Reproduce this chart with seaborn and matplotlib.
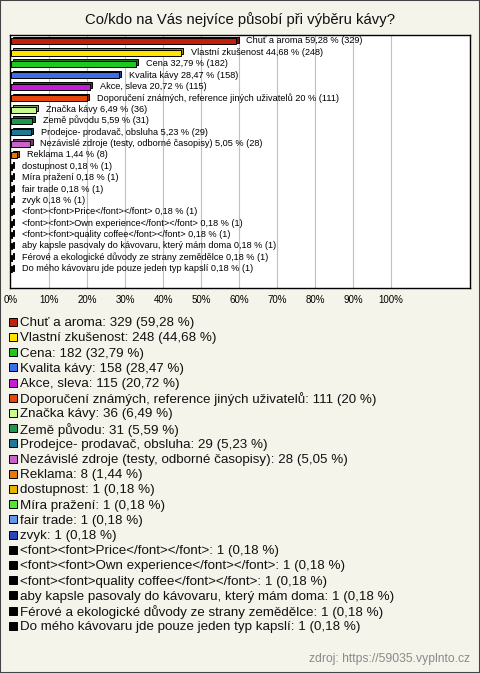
import matplotlib
matplotlib.use("Agg")
import matplotlib.pyplot as plt
import matplotlib.transforms as mtransforms
from matplotlib.patches import Rectangle
from matplotlib.colors import to_rgb
import seaborn as sns
import pandas as pd

# ---- data ----
categories = [
    "Chuť a aroma", "Vlastní zkušenost", "Cena", "Kvalita kávy", "Akce, sleva",
    "Doporučení známých, reference jiných uživatelů", "Značka kávy", "Země původu",
    "Prodejce- prodavač, obsluha", "Nezávislé zdroje (testy, odborné časopisy)",
    "Reklama", "dostupnost", "Míra pražení", "fair trade", "zvyk",
    "<font><font>Price</font></font>", "<font><font>Own experience</font></font>",
    "<font><font>quality coffee</font></font>",
    "aby kapsle pasovaly do kávovaru, který mám doma",
    "Férové a ekologické důvody ze strany zemědělce",
    "Do mého kávovaru jde pouze jeden typ kapslí",
]
counts = [329, 248, 182, 158, 115, 111, 36, 31, 29, 28, 8, 1, 1, 1, 1, 1, 1, 1, 1, 1, 1]
percents = [59.28, 44.68, 32.79, 28.47, 20.72, 20.00, 6.49, 5.59, 5.23, 5.05, 1.44,
            0.18, 0.18, 0.18, 0.18, 0.18, 0.18, 0.18, 0.18, 0.18, 0.18]
colors = ["#c41e0c", "#ffe400", "#1ec81e", "#3c6ee6", "#c41ed2", "#e4460c",
          "#c8fa8c", "#1e9650", "#1e7896", "#c864c8", "#e6780a", "#e6b400",
          "#50e632", "#6496e6", "#2846b4", "#000000", "#000000", "#000000",
          "#000000", "#000000", "#000000"]
x_ticks = [0, 10, 20, 30, 40, 50, 60, 70, 80, 90, 100]
title = "Co/kdo na Vás nejvíce působí při výběru kávy?"
source = "zdroj: https://59035.vyplnto.cz"


def fmt_pct(v):
    s = f"{v:.2f}".rstrip("0").rstrip(".")
    return s.replace(".", ",")


df = pd.DataFrame({"cat": categories, "pct": percents, "n": counts})

sns.set_theme(style="white")
plt.rcParams["font.family"] = ["Liberation Sans", "DejaVu Sans"]

W, H = 480, 673
BG = "#f5f4eb"
fig = plt.figure(figsize=(W / 100, H / 100), dpi=100, facecolor=BG)

ax = fig.add_axes([10 / W, 1 - 288 / H, 460 / W, 253 / H])
ax.set_facecolor("white")

# back (depth) face, darker, shifted up/right
dark = [tuple(c * 0.6 for c in to_rgb(col)) for col in colors]
sns.barplot(data=df, x="pct", y="cat", hue="cat", palette=dark, legend=False,
            orient="h", width=0.52, edgecolor="black", linewidth=0.7, ax=ax,
            saturation=1)
shift = mtransforms.offset_copy(ax.transData, fig=fig, x=2.2, y=1.6, units="dots")
for p in list(ax.patches):
    p.set_transform(shift)

sns.barplot(data=df, x="pct", y="cat", hue="cat", palette=colors, legend=False,
            orient="h", width=0.52, edgecolor="black", linewidth=0.7, ax=ax,
            saturation=1)

for i, (c, v, n) in enumerate(zip(categories, percents, counts)):
    ax.annotate(f"{c} {fmt_pct(v)} % ({n})", xy=(v, i), xytext=(7.3, 0.3),
                textcoords="offset points", ha="left", va="center",
                fontsize=6.6, color="black")

ax.set_xlim(-0.3, 120.8)
ax.set_ylim(21 - 0.5 + 1.15, -0.55)
ax.set_xticks(x_ticks)
ax.set_xticklabels([f"{t}%" for t in x_ticks], fontsize=7, color="black")
ax.tick_params(axis="x", length=0, pad=5)
ax.set_yticks([])
ax.set_xlabel("")
ax.set_ylabel("")
ax.grid(False)
for t in x_ticks[1:]:
    ax.axvline(t, color="#c0c0c0", lw=0.8, zorder=0)
for s in ax.spines.values():
    s.set_visible(True)
    s.set_color("black")
    s.set_linewidth(1.0)

fig.text(0.5, 1 - 20 / H, title, ha="center", va="center", fontsize=10.75,
         color="#111111")

# legend rows (uniform pitch)
y0, pitch = 321.7, 15.2
for i, (c, n, v, col) in enumerate(zip(categories, counts, percents, colors)):
    yc = y0 + i * pitch
    fig.patches.append(Rectangle((9 / W, 1 - (yc + 4) / H), 8 / W, 8 / H,
                                 transform=fig.transFigure, facecolor=col,
                                 edgecolor="black", linewidth=0.7))
    fig.text(20 / W, 1 - yc / H, f"{c}: {n} ({fmt_pct(v)} %)", ha="left",
             va="center_baseline", fontsize=9.6, color="#111111")

fig.text(470 / W, 1 - 659 / H, source, ha="right", va="center", fontsize=8.7,
         color="#8a8a8a")

fig.patches.append(Rectangle((0, 0), 1, 1, transform=fig.transFigure, fill=False,
                             edgecolor="#444444", linewidth=1.5, zorder=10))

fig.savefig("out.png", dpi=100, facecolor=BG)
